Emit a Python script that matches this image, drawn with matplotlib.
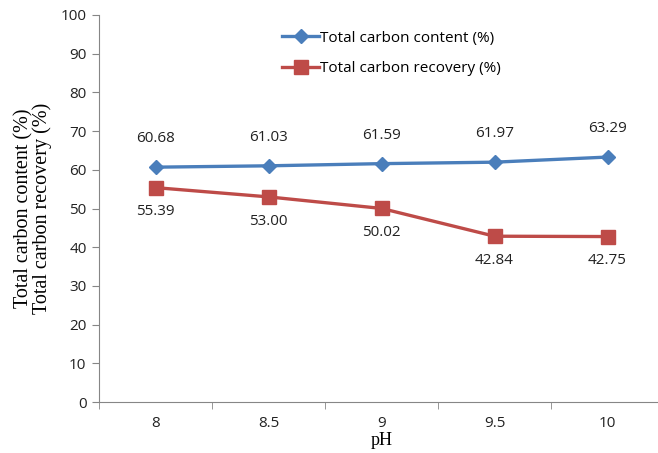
import matplotlib.pyplot as plt

ph = ['8', '8.5', '9', '9.5', '10']
carbon_content = [60.68, 61.03, 61.59, 61.97, 63.29]
carbon_recovery = [55.39, 53.00, 50.02, 42.84, 42.75]

blue = '#4a7ebb'
red = '#be4b48'
grey = '#868686'

fig = plt.figure(figsize=(6.58, 4.53), dpi=100)
ax = fig.add_axes([99 / 658, 1 - 402 / 453, 565 / 658, 387 / 453])

x = list(range(len(ph)))
ax.plot(x, carbon_content, color=blue, lw=2.4, marker='D', ms=7.5,
        label='Total carbon content (%)')
ax.plot(x, carbon_recovery, color=red, lw=2.4, marker='s', ms=9.5,
        label='Total carbon recovery (%)')

tick_font = 'Open Sans'
for i, v in enumerate(carbon_content):
    ax.annotate(f'{v:.2f}', (i, v), xytext=(0, 15), textcoords='offset points',
                ha='center', va='bottom', fontsize=11, family=tick_font,
                color='#222222')
for i, v in enumerate(carbon_recovery):
    ax.annotate(f'{v:.2f}', (i, v), xytext=(0, -12), textcoords='offset points',
                ha='center', va='top', fontsize=11, family=tick_font,
                color='#222222')

ax.set_xlim(-0.5, len(ph) - 0.5)
ax.set_ylim(0, 100)
ax.set_yticks(range(0, 101, 10))
ax.set_xticks(x)
ax.set_xticklabels(ph)
ax.set_xticks([i + 0.5 for i in range(-1, len(ph))], minor=True)
ax.tick_params(axis='x', which='major', length=0, pad=10)
ax.tick_params(axis='x', which='minor', length=5, color=grey)
ax.tick_params(axis='y', length=5, color=grey, pad=4)
for lab in ax.get_xticklabels() + ax.get_yticklabels():
    lab.set_family(tick_font)
    lab.set_fontsize(11)
    lab.set_color('#222222')

for s in ['top', 'right']:
    ax.spines[s].set_visible(False)
for s in ['left', 'bottom']:
    ax.spines[s].set_color(grey)

ax.set_xlabel('pH', family='Liberation Serif', fontsize=13, labelpad=1)
ax.set_ylabel('Total carbon content (%)\nTotal carbon recovery (%)',
              family='Liberation Serif', fontsize=14.5, labelpad=6,
              linespacing=0.95)

ax.legend(loc='upper left', bbox_to_anchor=(0.30, 0.995), frameon=False,
          prop={'family': tick_font, 'size': 11}, handlelength=2.4,
          handletextpad=0.1, labelspacing=1.0)

fig.savefig('out.png', dpi=100)
